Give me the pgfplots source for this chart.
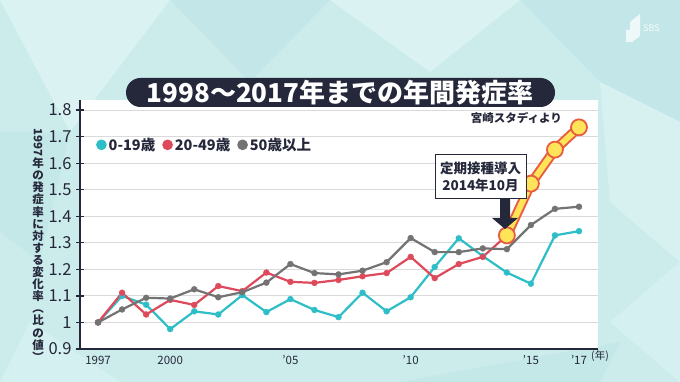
\documentclass[border=0pt]{standalone}
\usepackage{pgfplots}
\pgfplotsset{compat=1.18}
\usepackage{fontspec}
\setmainfont{Noto Sans CJK JP}
\definecolor{bg}{RGB}{204,236,236}
\definecolor{bgl}{RGB}{218,243,242}
\definecolor{bgd}{RGB}{190,228,230}
\definecolor{navy}{RGB}{37,40,58}
\definecolor{cteal}{RGB}{45,190,200}
\definecolor{cred}{RGB}{222,74,92}
\definecolor{cgray}{RGB}{115,115,115}
\definecolor{hyel}{RGB}{255,228,90}
\definecolor{hred}{RGB}{232,92,64}
\definecolor{gridc}{RGB}{218,218,218}
\begin{document}
\begin{tikzpicture}
\begin{scope}[x=1pt,y=1pt]
\useasboundingbox (0,0) rectangle (680,382);
\fill[bg] (0,0) rectangle (680,382);
\fill[bgl] (0,382) -- (170,382) -- (70,250) -- cycle;
\fill[bgd,opacity=0.6] (170,382) -- (330,382) -- (250,300) -- cycle;
\fill[bgl] (330,382) -- (520,382) -- (430,310) -- cycle;
\fill[bgd,opacity=0.6] (520,382) -- (680,382) -- (680,260) -- (600,300) -- cycle;
\fill[bgl,opacity=0.8] (600,300) -- (680,260) -- (680,120) -- (610,180) -- cycle;
\fill[bgd,opacity=0.5] (0,250) -- (70,250) -- (40,120) -- (0,150) -- cycle;
\fill[bgl,opacity=0.7] (0,0) -- (120,0) -- (30,60) -- cycle;
\fill[bgd,opacity=0.5] (400,0) -- (600,0) -- (620,40) -- cycle;
\fill[bgl,opacity=0.7] (610,60) -- (680,0) -- (680,120) -- cycle;
\fill[white,opacity=0.75] (626,340) -- (626,352) -- (630,352) -- (630,360) -- (640,368) -- (640,346) -- (632,340) -- cycle;
\node[anchor=west,text=white,opacity=0.85,font=\fontsize{9}{9}\selectfont,inner sep=0] at (643,354) {SBS};
\end{scope}
\begin{axis}[
  at={(80pt,33pt)}, anchor=south west, scale only axis,
  width=518pt, height=249pt,
  xmin=1996.25, xmax=2017.79, ymin=0.9, ymax=1.838,
  axis background/.style={fill=white},
  axis x line*=bottom, axis y line*=left,
  axis line style={navy, line width=2.5pt},
  xtick={1997,2000,2005,2010,2015,2017},
  xticklabels={1997,2000,'05,'10,'15,'17},
  xtick style={draw=none},
  ytick={0.9,1,1.1,1.2,1.3,1.4,1.5,1.6,1.7,1.8},
  yticklabels={0.9,1,1.1,1.2,1.3,1.4,1.5,1.6,1.7,1.8},
  ytick style={navy, line width=1.2pt},
  major tick length=8pt, tick align=center,
  ymajorgrids, grid style={gridc, line width=1pt},
  /pgf/number format/assume math mode=true,
  yticklabel style={font=\fontsize{16.5}{16.5}\selectfont, text=navy, xshift=-1pt},
  xticklabel style={font=\fontsize{11.5}{11.5}\selectfont, text=navy, yshift=0.5pt},
  clip=false,
  legend columns=-1,
  legend style={draw=none, fill=none, at={(0.025,0.82)}, anchor=west,
    font=\bfseries\fontsize{14.5}{14.5}\selectfont, text=navy,
    /tikz/every even column/.append style={column sep=5pt}},
  legend image code/.code={\fill[#1] (0pt,0pt) circle (4.2pt);},
]
\addplot[cteal, line width=2.2pt, line join=round, mark=*, mark size=3pt, mark options={solid, fill=cteal, draw=cteal, line width=0.3pt}] coordinates {
(1997,1.0) (1998,1.10) (1999,1.067) (2000,0.975) (2001,1.042) (2002,1.03) (2003,1.103)
(2004,1.039) (2005,1.088) (2006,1.047) (2007,1.02) (2008,1.112) (2009,1.042) (2010,1.095)
(2011,1.209) (2012,1.317) (2013,1.25) (2014,1.188) (2015,1.146) (2016,1.328) (2017,1.344)};
\addlegendentry{0-19歳}
\addplot[cred, line width=2.2pt, line join=round, mark=*, mark size=3pt, mark options={solid, fill=cred, draw=cred, line width=0.3pt}] coordinates {
(1997,1.0) (1998,1.112) (1999,1.03) (2000,1.085) (2001,1.066) (2002,1.137) (2003,1.118)
(2004,1.188) (2005,1.153) (2006,1.149) (2007,1.16) (2008,1.174) (2009,1.186) (2010,1.247)
(2011,1.167) (2012,1.22) (2013,1.247) (2014,1.328)};
\addlegendentry{20-49歳}
\addplot[cgray, line width=2.2pt, line join=round, mark=*, mark size=3pt, mark options={solid, fill=cgray, draw=cgray, line width=0.3pt}] coordinates {
(1997,1.0) (1998,1.049) (1999,1.093) (2000,1.09) (2001,1.125) (2002,1.095) (2003,1.114)
(2004,1.15) (2005,1.22) (2006,1.186) (2007,1.181) (2008,1.195) (2009,1.227) (2010,1.318)
(2011,1.265) (2012,1.265) (2013,1.279) (2014,1.276) (2015,1.367) (2016,1.428) (2017,1.436)};
\addlegendentry{50歳以上}
\addplot[forget plot, hred, line width=10pt, no markers, line join=round] coordinates {
(2014,1.328) (2015,1.523) (2016,1.651) (2017,1.735)};
\addplot[forget plot, hyel, line width=6pt, no markers, line join=round] coordinates {
(2014,1.328) (2015,1.523) (2016,1.651) (2017,1.735)};
\addplot[forget plot, draw=none, mark=*, mark size=8pt, mark options={solid, fill=hyel, draw=hred, line width=1.8pt}] coordinates {
(2014,1.328) (2015,1.523) (2016,1.651) (2017,1.735)};
\end{axis}
\begin{scope}[x=1pt,y=1pt]
\node[font=\fontsize{10.5}{10.5}\selectfont, text=navy] at (600,25.5) {(年)};
\node[align=center, inner sep=0, text=navy, font=\bfseries\fontsize{11.5}{12.1}\selectfont] at (38,137)
 {\rotatebox{-90}{1997}\\年\\の\\発\\症\\率\\に\\対\\す\\る\\変\\化\\率\\︵\\比\\の\\値\\︶};
\fill[navy, rounded corners=14.5pt] (126,275) rectangle (555,304);
\node[text=white, font=\bfseries\fontsize{26}{26}\selectfont] at (340,289.5) {1998～2017年までの年間発症率};
\node[anchor=east, text=navy, font=\bfseries\fontsize{11.5}{11.5}\selectfont, inner sep=0] at (562,264) {宮崎スタディより};
\draw[navy, line width=1pt, fill=white] (435,183) rectangle (526,227);
\node[align=center, text=navy, font=\bfseries\fontsize{13.5}{17.5}\selectfont] at (480.5,205) {定期接種導入\\2014年10月};
\fill[navy] (500,183) -- (510,183) -- (510,164) -- (518,164) -- (505,153) -- (492,164) -- (500,164) -- cycle;
\end{scope}
\end{tikzpicture}
\end{document}
